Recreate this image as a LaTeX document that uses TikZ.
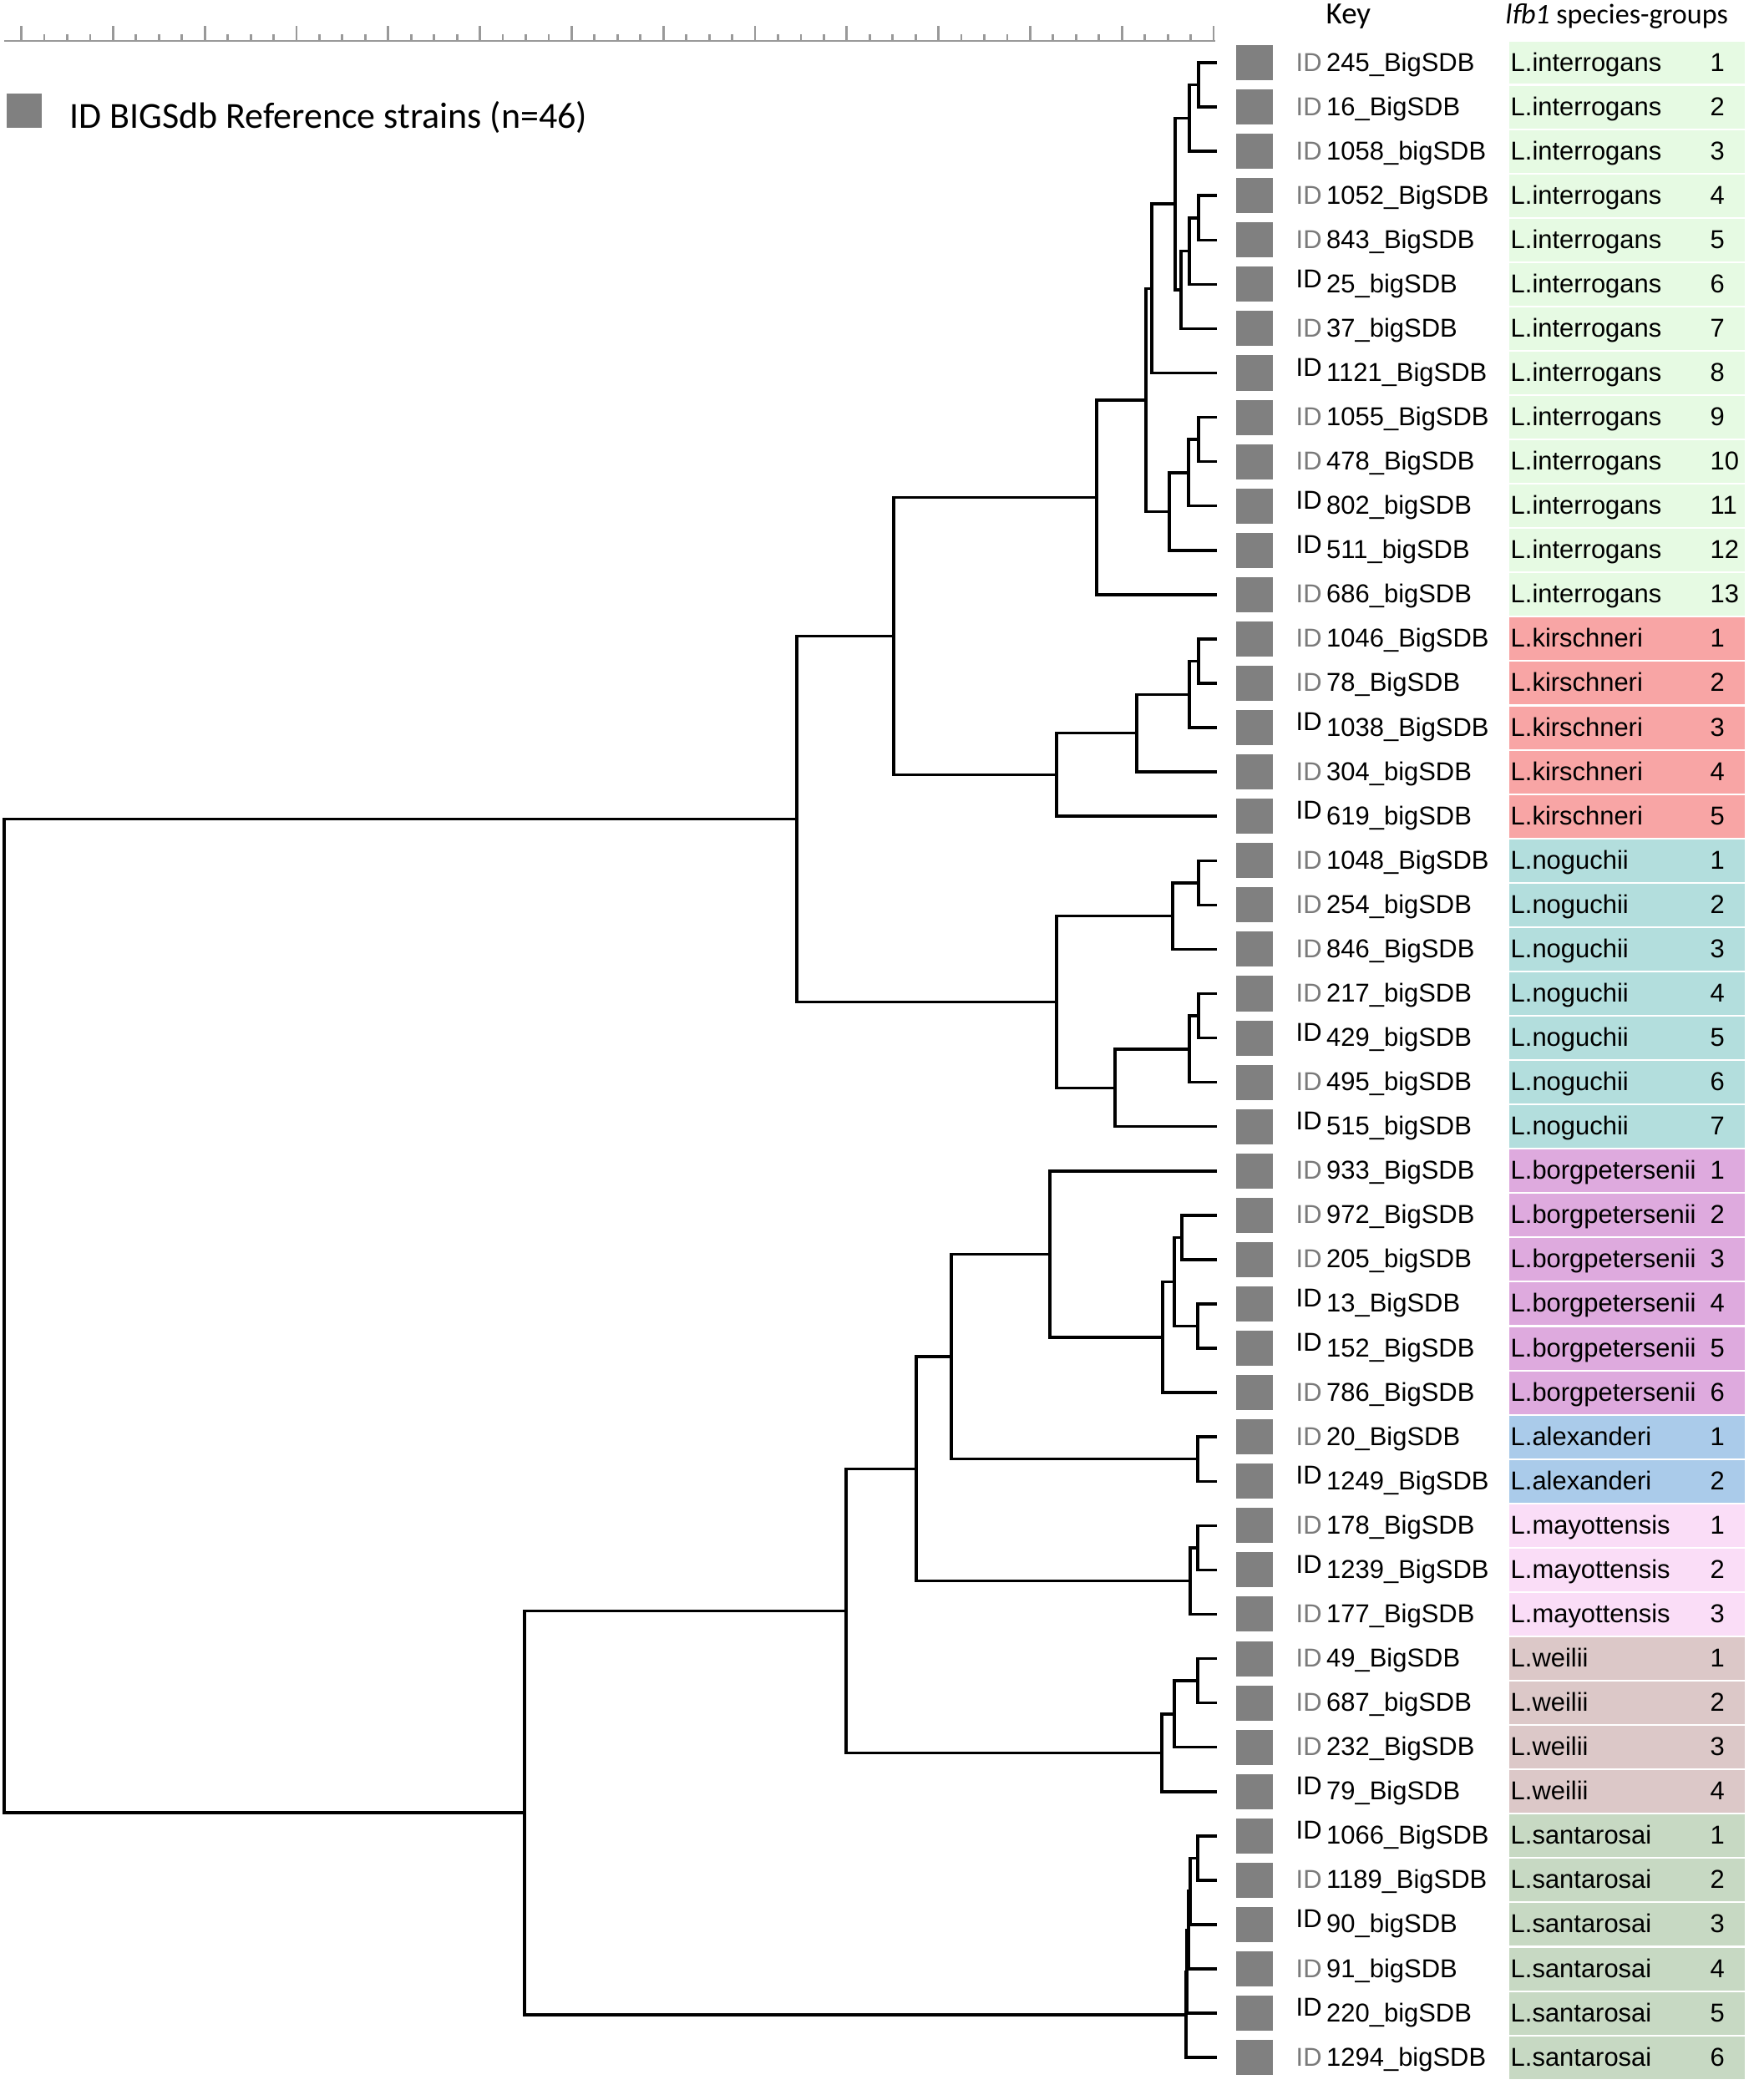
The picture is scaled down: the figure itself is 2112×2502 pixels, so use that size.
\documentclass[tikz,border=0pt]{standalone}
\usepackage{fontspec}
\setmainfont{Liberation Sans}
\newfontfamily\calibfont{Carlito}
\definecolor{interrogans}{HTML}{E6FAE3}
\definecolor{kirschneri}{HTML}{F8A5A5}
\definecolor{noguchii}{HTML}{B3DEDD}
\definecolor{borgpetersenii}{HTML}{DEAADE}
\definecolor{alexanderi}{HTML}{AACBEA}
\definecolor{mayottensis}{HTML}{FADDF7}
\definecolor{weilii}{HTML}{DCC8C8}
\definecolor{santarosai}{HTML}{C7D9C3}
\definecolor{keygray}{HTML}{808080}
\definecolor{idgray}{HTML}{7A7A7A}
\newcommand{\idtag}[1]{\ifnum#1=1 \raisebox{1.8pt}{ID}\else\textcolor{idgray}{ID}\fi}

\begin{document}
\begin{tikzpicture}[x=0.01cm, y=-0.01cm,
  declare function={ry(\r)=21.93+53.07*\r;},
  branch/.style={line width=1pt, line cap=rect},
  axisline/.style={gray!80, line width=0.8pt},
  keybox/.style={fill=keygray, minimum width=0.44cm, minimum height=0.42cm, inner sep=0pt},
  cell/.style={draw=white, line width=0.6pt, minimum width=2.84cm, minimum height=0.5307cm, inner sep=0pt},
  lab/.style={anchor=base west, inner sep=0pt, font=\fontsize{8.8}{10}\selectfont},
  head/.style={anchor=base west, inner sep=0pt, font=\calibfont\fontsize{9.7}{11}\selectfont}]%
  \useasboundingbox (0,0) rectangle (2112,2502);
  \coordinate (ax0) at (5,49);
  \coordinate (ax1) at (1455,49);
  \draw[axisline] (ax0) -- (ax1);
  \foreach \t in {0,...,13}
    \draw[axisline] ({1453-109.8*\t},49) -- ++(0,-18);
  \foreach \t in {0,...,12}
    \foreach \s in {1,2,3}
      \draw[axisline] ({1453-109.8*\t-27.45*\s},49) -- ++(0,-8);
  \node[keybox, minimum width=0.42cm, minimum height=0.41cm] (legbox) at (29,132.5) {};
  \node[anchor=base west, inner sep=0pt, font=\calibfont\fontsize{12.5}{14}\selectfont] (legtext) at (83,153) {ID BIGSdb Reference strains (n=46)};
  \node[head, font=\calibfont\fontsize{10.5}{12}\selectfont] (keyhead) at (1587,28) {Key};
  \node[head] (grphead) at (1802,28) {\textit{lfb1} species-groups};
  \foreach \i in {1,...,46}
    \coordinate (l\i) at (1455,{ry(\i)});
  \foreach [count=\i] \sid/\spc/\grp/\raised in {
    245\_BigSDB/interrogans/1/0, 16\_BigSDB/interrogans/2/0, 1058\_bigSDB/interrogans/3/0,
    1052\_BigSDB/interrogans/4/0, 843\_BigSDB/interrogans/5/0, 25\_bigSDB/interrogans/6/1,
    37\_bigSDB/interrogans/7/0, 1121\_BigSDB/interrogans/8/1, 1055\_BigSDB/interrogans/9/0,
    478\_BigSDB/interrogans/10/0, 802\_bigSDB/interrogans/11/1, 511\_bigSDB/interrogans/12/1,
    686\_bigSDB/interrogans/13/0,
    1046\_BigSDB/kirschneri/1/0, 78\_BigSDB/kirschneri/2/0, 1038\_BigSDB/kirschneri/3/1,
    304\_bigSDB/kirschneri/4/0, 619\_bigSDB/kirschneri/5/1,
    1048\_BigSDB/noguchii/1/0, 254\_bigSDB/noguchii/2/0, 846\_BigSDB/noguchii/3/0,
    217\_bigSDB/noguchii/4/0, 429\_bigSDB/noguchii/5/1, 495\_bigSDB/noguchii/6/0,
    515\_bigSDB/noguchii/7/1,
    933\_BigSDB/borgpetersenii/1/0, 972\_BigSDB/borgpetersenii/2/0, 205\_bigSDB/borgpetersenii/3/0,
    13\_BigSDB/borgpetersenii/4/1, 152\_BigSDB/borgpetersenii/5/1, 786\_BigSDB/borgpetersenii/6/0,
    20\_BigSDB/alexanderi/1/0, 1249\_BigSDB/alexanderi/2/1,
    178\_BigSDB/mayottensis/1/0, 1239\_BigSDB/mayottensis/2/1, 177\_BigSDB/mayottensis/3/0,
    49\_BigSDB/weilii/1/0, 687\_bigSDB/weilii/2/0, 232\_BigSDB/weilii/3/0, 79\_BigSDB/weilii/4/1,
    1066\_BigSDB/santarosai/1/1, 1189\_BigSDB/santarosai/2/0, 90\_bigSDB/santarosai/3/1,
    91\_bigSDB/santarosai/4/0, 220\_bigSDB/santarosai/5/1, 1294\_bigSDB/santarosai/6/0} {
    \node[keybox] (sq\i) at (1502,{ry(\i)}) {};
    \node[lab] (id\i) at (1551,{ry(\i)+10}) {\idtag{\raised}\hspace{0.18em}\sid};
    \node[cell, fill=\spc] (sp\i) at (1948,{ry(\i)}) {};
    \node[lab] (nm\i) at (1808,{ry(\i)+10}) {L.\spc};
    \node[lab] (nb\i) at (2047,{ry(\i)+10}) {\grp};
  }
  \foreach \n/\x/\r in {
    a12/1435/1.5, a123/1424/2.25, a45/1435/4.5, a456/1424/5.25, a47/1414/6.125,
    a17/1407/4.1875, a18/1379/6.09375, a910/1435/9.5, a911/1423/10.25, a912/1400/11.125,
    a112/1372/8.609375, a113/1313/10.8046875,
    k1415/1435/14.5, k1416/1424/15.25, k1417/1361/16.125, k1418/1265/17.0625,
    ik/1070/13.93359375,
    n1920/1435/19.5, n1921/1404/20.25, n2223/1435/22.5, n2224/1424/23.25,
    n2225/1335/24.125, n1925/1265/22.1875,
    top/954/18.060546875,
    b2728/1415/27.5, b2930/1434/29.5, b2730/1406/28.5, b2731/1392/29.75, b2631/1257/27.875,
    x3233/1434/32.5, ba/1139/30.1875,
    m3435/1434/34.5, m3436/1425/35.25, bam/1097/32.71875,
    w3738/1434/37.5, w3739/1406/38.25, w3740/1391/39.125, bamw/1013/35.921875,
    s4142/1434/41.5, s4143/1425/42.25, s4144/1423/43.125, s4145/1421/44.0625, s4146/1420/45.03125,
    bot/628/40.4765625,
    root/5/29.2685546875}
    \coordinate (\n) at (\x,{ry(\r)});
  \foreach \p/\c in {
    a12/l1, a12/l2, a123/a12, a123/l3, a45/l4, a45/l5, a456/a45, a456/l6, a47/a456, a47/l7,
    a17/a123, a17/a47, a18/a17, a18/l8, a910/l9, a910/l10, a911/a910, a911/l11, a912/a911,
    a912/l12, a112/a18, a112/a912, a113/a112, a113/l13,
    k1415/l14, k1415/l15, k1416/k1415, k1416/l16, k1417/k1416, k1417/l17, k1418/k1417, k1418/l18,
    ik/a113, ik/k1418,
    n1920/l19, n1920/l20, n1921/n1920, n1921/l21, n2223/l22, n2223/l23, n2224/n2223, n2224/l24,
    n2225/n2224, n2225/l25, n1925/n1921, n1925/n2225,
    top/ik, top/n1925,
    b2728/l27, b2728/l28, b2930/l29, b2930/l30, b2730/b2728, b2730/b2930, b2731/b2730, b2731/l31,
    b2631/l26, b2631/b2731,
    x3233/l32, x3233/l33, ba/b2631, ba/x3233,
    m3435/l34, m3435/l35, m3436/m3435, m3436/l36, bam/ba, bam/m3436,
    w3738/l37, w3738/l38, w3739/w3738, w3739/l39, w3740/w3739, w3740/l40, bamw/bam, bamw/w3740,
    s4142/l41, s4142/l42, s4143/s4142, s4143/l43, s4144/s4143, s4144/l44, s4145/s4144, s4145/l45,
    s4146/s4145, s4146/l46,
    bot/bamw, bot/s4146,
    root/top, root/bot}
    \draw[branch] (\p) |- (\c);
\end{tikzpicture}
\end{document}
